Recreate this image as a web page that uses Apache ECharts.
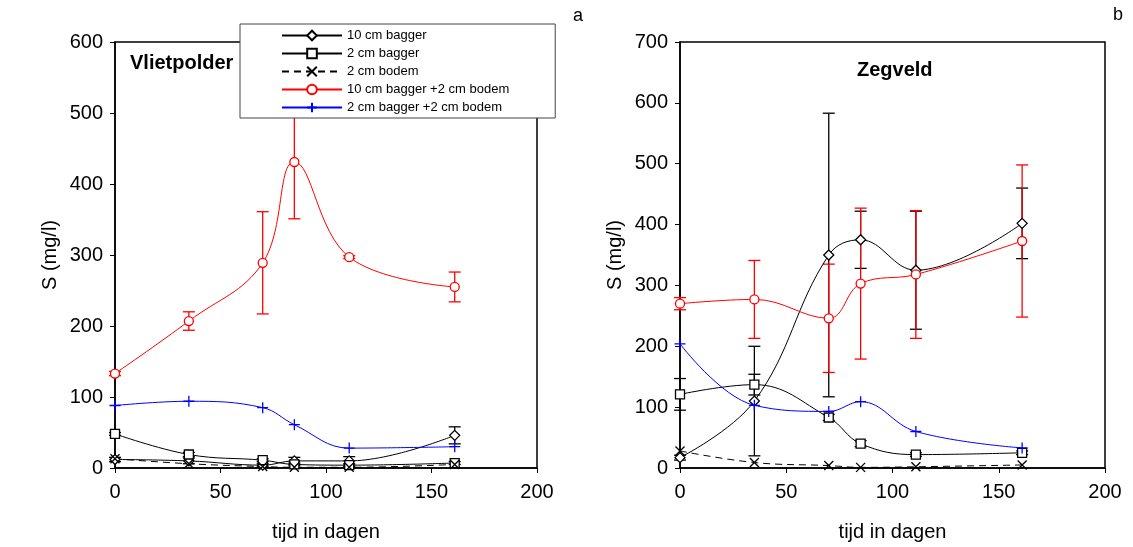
<!DOCTYPE html>
<html>
<head>
<meta charset="utf-8">
<script src="https://cdn.jsdelivr.net/npm/echarts@6/dist/echarts.min.js"></script>
<style>
  html, body { margin: 0; padding: 0; background: #fff; }
  #chart { width: 1133px; height: 547px; }
</style>
</head>
<body>
<div id="chart"></div>
<script>
// sampling days (same for both sites)
const days = [0, 35, 70, 85, 111, 161];
const seriesNames = ['10 cm bagger', '2 cm bagger', '2 cm bodem', '10 cm bagger +2 cm bodem', '2 cm bagger +2 cm bodem'];

// a: Vlietpolder
const vpBagger10 = [12, 10, 4, 10, 10, 46];
const vpBagger10Err = [3, 4, 2, 5, 6, 12];
const vpBagger2 = [48, 19, 11, 5, 4, 7];
const vpBagger2Err = [2, 3, 2, 2, 2, 2];
const vpBodem2 = [13, 6, 2, 1, 1, 5];
const vpMix10 = [133, 207, 289, 431, 297, 255];
const vpMix10Err = [3, 13, 72, 80, 2, 21];
const vpMix2 = [88, 94, 85, 61, 28, 30];

// b: Zegveld
const zvBagger10 = [17, 110, 350, 375, 325, 402];
const zvBagger10Err = [4, 90, 233, 47, 97, 58];
const zvBagger2 = [121, 137, 83, 40, 22, 25];
const zvBagger2Err = [26, 17, 5, 5, 3, 3];
const zvBodem2 = [28, 9, 4, 1, 2, 5];
const zvMix10 = [270, 277, 246, 303, 318, 373];
const zvMix10Err = [10, 64, 89, 124, 105, 125];
const zvMix2 = [204, 103, 93, 109, 60, 33];

const FONT = 'Liberation Sans, Arial, sans-serif';

const styles = [
  { symbol: 'diamond', size: 10, color: '#000', type: 'solid', fill: '#fff' },
  { symbol: 'rect', size: 9, color: '#000', type: 'solid', fill: '#fff' },
  { symbol: 'path://M0,0L10,10M10,0L0,10', size: 9, color: '#000', type: [7, 5], fill: '#fff' },
  { symbol: 'circle', size: 9, color: '#ff0000', type: 'solid', fill: '#fff' },
  { symbol: 'path://M5,0L5,10M0,5L10,5', size: 11, color: '#0000ff', type: 'solid', fill: '#fff' }
];

function lineSeries(idx, values, gridIdx) {
  const s = styles[idx];
  return {
    name: seriesNames[idx],
    type: 'line',
    xAxisIndex: gridIdx,
    yAxisIndex: gridIdx,
    smooth: 0.4,
    symbol: s.symbol,
    symbolSize: s.size,
    showAllSymbol: true,
    lineStyle: { color: s.color, width: 1, type: s.type },
    itemStyle: { color: s.fill, borderColor: s.color, borderWidth: 1.3 },
    data: days.map((d, i) => [d, values[i]]),
    z: 3
  };
}

function errorSeries(values, errs, gridIdx, color) {
  return {
    type: 'custom',
    xAxisIndex: gridIdx,
    yAxisIndex: gridIdx,
    encode: { x: 0, y: [1, 2] },
    data: days.map((d, i) => [d, values[i] - errs[i], values[i] + errs[i]]),
    renderItem: function (params, api) {
      const lo = api.coord([api.value(0), api.value(1)]);
      const hi = api.coord([api.value(0), api.value(2)]);
      const w = 6;
      const st = { stroke: color, lineWidth: 1.3 };
      return {
        type: 'group',
        children: [
          { type: 'line', shape: { x1: lo[0], y1: lo[1], x2: hi[0], y2: hi[1] }, style: st },
          { type: 'line', shape: { x1: lo[0] - w, y1: lo[1], x2: lo[0] + w, y2: lo[1] }, style: st },
          { type: 'line', shape: { x1: hi[0] - w, y1: hi[1], x2: hi[0] + w, y2: hi[1] }, style: st }
        ]
      };
    },
    z: 2
  };
}

function xAxis(gridIdx) {
  return {
    type: 'value', gridIndex: gridIdx, min: 0, max: 200, interval: 50,
    name: 'tijd in dagen', nameLocation: 'middle', nameGap: 54,
    nameTextStyle: { fontFamily: FONT, fontSize: 20, color: '#000' },
    axisLine: { show: true, onZero: false, lineStyle: { color: '#000', width: 1.5 } },
    axisTick: { show: true, inside: false, length: 5, lineStyle: { color: '#000' } },
    axisLabel: { fontFamily: FONT, fontSize: 20, color: '#000', margin: 14 },
    splitLine: { show: false }
  };
}

function yAxis(gridIdx, max) {
  return {
    type: 'value', gridIndex: gridIdx, min: 0, max: max, interval: 100,
    name: 'S (mg/l)', nameLocation: 'middle', nameGap: 55,
    nameTextStyle: { fontFamily: FONT, fontSize: 20, color: '#000' },
    axisLine: { show: true, lineStyle: { color: '#000', width: 1.5 } },
    axisTick: { show: true, inside: false, length: 5, lineStyle: { color: '#000' } },
    axisLabel: { fontFamily: FONT, fontSize: 20, color: '#000', margin: 12 },
    splitLine: { show: false }
  };
}

const chart = echarts.init(document.getElementById('chart'));
chart.setOption({
  backgroundColor: '#fff',
  animation: false,
  title: [
    { text: 'Vlietpolder', left: 130, top: 53, padding: 0, textStyle: { fontFamily: FONT, fontSize: 20, fontWeight: 'bold', color: '#000' } },
    { text: 'Zegveld', left: 857, top: 60, padding: 0, textStyle: { fontFamily: FONT, fontSize: 20, fontWeight: 'bold', color: '#000' } },
    { text: 'a', left: 573, top: 7, padding: 0, textStyle: { fontFamily: FONT, fontSize: 18, fontWeight: 'normal', color: '#000' } },
    { text: 'b', left: 1113, top: 6, padding: 0, textStyle: { fontFamily: FONT, fontSize: 18, fontWeight: 'normal', color: '#000' } }
  ],
  legend: {
    data: seriesNames,
    orient: 'vertical',
    left: 240,
    top: 24,
    padding: [5, 46, 4, 41],
    itemWidth: 60,
    itemHeight: 12,
    itemGap: 5,
    backgroundColor: '#fff',
    borderColor: '#444',
    borderWidth: 1,
    textStyle: { fontFamily: FONT, fontSize: 13, color: '#000', lineHeight: 12 },
    z: 10
  },
  grid: [
    { left: 115, top: 42, width: 422, height: 428, show: true, borderColor: '#000', borderWidth: 1.5, backgroundColor: 'transparent' },
    { left: 680, top: 42, width: 425, height: 431, show: true, borderColor: '#000', borderWidth: 1.5, backgroundColor: 'transparent' }
  ],
  xAxis: [xAxis(0), xAxis(1)],
  yAxis: [yAxis(0, 600), yAxis(1, 700)],
  series: [
    errorSeries(vpBagger10, vpBagger10Err, 0, '#000'),
    errorSeries(vpBagger2, vpBagger2Err, 0, '#000'),
    errorSeries(vpMix10, vpMix10Err, 0, '#ff0000'),
    lineSeries(0, vpBagger10, 0),
    lineSeries(1, vpBagger2, 0),
    lineSeries(2, vpBodem2, 0),
    lineSeries(3, vpMix10, 0),
    lineSeries(4, vpMix2, 0),

    errorSeries(zvBagger10, zvBagger10Err, 1, '#000'),
    errorSeries(zvBagger2, zvBagger2Err, 1, '#000'),
    errorSeries(zvMix10, zvMix10Err, 1, '#ff0000'),
    lineSeries(0, zvBagger10, 1),
    lineSeries(1, zvBagger2, 1),
    lineSeries(2, zvBodem2, 1),
    lineSeries(3, zvMix10, 1),
    lineSeries(4, zvMix2, 1)
  ]
});
</script>
</body>
</html>
